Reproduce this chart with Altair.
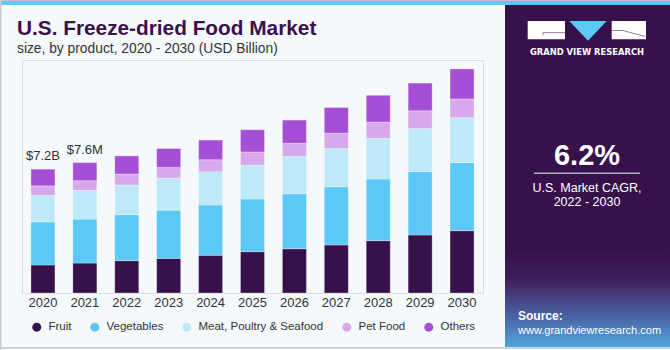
import altair as alt
import pandas as pd

# ---------------- data ----------------
years = ["2020", "2021", "2022", "2023", "2024", "2025", "2026", "2027", "2028", "2029", "2030"]
categories = ["Fruit", "Vegetables", "Meat, Poultry & Seafood", "Pet Food", "Others"]
fruit = [1.63, 1.74, 1.88, 2.01, 2.19, 2.40, 2.57, 2.79, 3.04, 3.37, 3.62]
vegetables = [2.50, 2.55, 2.67, 2.80, 2.92, 3.06, 3.19, 3.38, 3.58, 3.68, 3.95]
meat = [1.53, 1.67, 1.72, 1.86, 1.93, 1.96, 2.17, 2.22, 2.36, 2.50, 2.61]
pet_food = [0.56, 0.56, 0.64, 0.62, 0.70, 0.77, 0.77, 0.89, 0.95, 1.03, 1.09]
others = [0.97, 1.05, 1.05, 1.10, 1.14, 1.29, 1.34, 1.49, 1.55, 1.61, 1.74]
colors = ["#37114a", "#5bc8f5", "#bde9f9", "#d7a9ec", "#a54fd6"]
label_years = ["2020", "2021"]
label_texts = ["$7.2B", "$7.6M"]

series = [fruit, vegetables, meat, pet_food, others]
rows = []
for ci, (cat, vals) in enumerate(zip(categories, series)):
    for y, v in zip(years, vals):
        rows.append({"year": y, "product": cat, "value": v, "order": ci})
df = pd.DataFrame(rows)

totals = df.groupby("year", as_index=False)["value"].sum()
lab = pd.DataFrame({"year": label_years, "label": label_texts})
lab = lab.merge(totals, on="year")

# ---------------- layout ----------------
OX, OY = 22, 60          # plot origin in page pixels
W, H = 461, 233
YMAX = 13.53

FONT = "Liberation Sans"
one = pd.DataFrame({"k": [0]})


def rect(x1, y1, x2, y2, fill):
    return alt.Chart(one).mark_rect(fill=fill, strokeWidth=0).encode(
        x=alt.value(x1 - OX), x2=alt.value(x2 - OX),
        y=alt.value(y1 - OY), y2=alt.value(y2 - OY))


def txt(s, x, y, size, color, weight="normal", align="left", font=FONT):
    return alt.Chart(one).mark_text(
        text=s, align=align, baseline="alphabetic", fontSize=size,
        fontWeight=weight, color=color, font=font).encode(
        x=alt.value(x - OX), y=alt.value(y - OY))


def line(x1, y1, x2, y2, color, width=1.0):
    return alt.Chart(one).mark_rule(color=color, strokeWidth=width).encode(
        x=alt.value(x1 - OX), x2=alt.value(x2 - OX),
        y=alt.value(y1 - OY), y2=alt.value(y2 - OY))


deco = []
# frame
deco.append(rect(0, 0, 670, 5, "#5bc8f5"))
deco.append(rect(0, 0, 670, 1, "#b9c3c9"))
deco.append(rect(0, 0, 1.5, 350, "#c9cfd3"))
deco.append(rect(0, 347, 670, 348.7, "#c9cfd3"))

# right panel
deco.append(rect(505, 5, 670, 347, "#37114a"))
grad = alt.Gradient(
    gradient="linear",
    stops=[alt.GradientStop(color="#37114a", offset=0),
           alt.GradientStop(color="#3d1f5c", offset=0.3),
           alt.GradientStop(color="#46397a", offset=0.45),
           alt.GradientStop(color="#4a66a8", offset=0.7),
           alt.GradientStop(color="#52a6df", offset=1)],
    x1=0, x2=0, y1=0, y2=1)
deco.append(alt.Chart(one).mark_rect(fill=grad, strokeWidth=0).encode(
    x=alt.value(505 - OX), x2=alt.value(670 - OX),
    y=alt.value(250 - OY), y2=alt.value(347 - OY)))

# logo
deco.append(rect(527.7, 21, 565, 39.3, "#ffffff"))
deco.append(line(543, 32.7, 565, 32.7, "#8d7f9c", 1))
deco.append(line(543, 32.7, 543, 35.5, "#8d7f9c", 1))
deco.append(rect(611.7, 21, 646, 39.3, "#ffffff"))
deco.append(line(612, 30.5, 623, 30.5, "#8d7f9c", 1))
deco.append(line(623, 30.5, 645, 36.5, "#8d7f9c", 1))
deco.append(alt.Chart(one).mark_point(
    shape="M-1,-0.527L1,-0.527L0,0.527Z", size=1399, filled=True,
    fill="#5bc8f5", strokeWidth=0, opacity=1).encode(
    x=alt.value(588 - OX), y=alt.value(30.9 - OY)))
deco.append(txt("GRAND VIEW RESEARCH", 587, 54.5, 8.4, "#ffffff", "bold", "center", "DejaVu Sans"))

# CAGR
deco.append(txt("6.2%", 587, 165, 29, "#ffffff", "bold", "center"))
deco.append(line(534, 173.3, 640, 173.3, "#b8aec4", 1.5))
deco.append(txt("U.S. Market CAGR,", 587, 192, 12.5, "#ffffff", "normal", "center"))
deco.append(txt("2022 - 2030", 587, 205.5, 12.5, "#ffffff", "normal", "center"))

# source
deco.append(txt("Source:", 518, 319.5, 12, "#ffffff", "bold"))
deco.append(txt("www.grandviewresearch.com", 518, 333.5, 11, "#ffffff"))

# titles
deco.append(txt("U.S. Freeze-dried Food Market", 17, 35, 20.8, "#3a1249", "bold"))
deco.append(txt("size, by product, 2020 - 2030 (USD Billion)", 17, 53, 13.8, "#333333"))

# ---------------- bars ----------------
bars = alt.Chart(df).mark_bar(stroke="#ffffff", strokeWidth=0.6, strokeOpacity=0.5).encode(
    x=alt.X("year:N", sort=years, title=None,
            scale=alt.Scale(paddingInner=0.427, paddingOuter=0.2135),
            axis=alt.Axis(domain=False, ticks=False, labelAngle=0, labelPadding=3,
                          labelFontSize=13, labelColor="#333333", labelFont=FONT,
                          grid=False)),
    y=alt.Y("value:Q", stack="zero", title=None, axis=None,
            scale=alt.Scale(domain=[0, YMAX], nice=False, zero=True)),
    color=alt.Color("product:N", title=None,
                    scale=alt.Scale(domain=categories, range=colors),
                    legend=alt.Legend(orient="none", legendX=9, legendY=261,
                                      direction="horizontal", symbolType="circle",
                                      symbolSize=81, symbolStrokeWidth=0, symbolOpacity=1,
                                      labelFontSize=11.5, labelColor="#333333", labelFont=FONT,
                                      columnPadding=17, labelOffset=6, padding=0)),
    order=alt.Order("order:Q", sort="ascending"),
)

labels = alt.Chart(lab).mark_text(dy=-9, baseline="alphabetic", fontSize=13,
                                  color="#333333", font=FONT).encode(
    x=alt.X("year:N", sort=years),
    y=alt.Y("value:Q"),
    text="label:N",
)

chart = alt.layer(*deco, bars, labels).properties(
    width=W, height=H,
    padding={"left": OX, "top": OY, "right": 670 - OX - W, "bottom": 350 - OY - H},
    autosize=alt.AutoSizeParams(type="none"),
    background="#f5f9fc",
).configure_view(stroke=None).configure(font=FONT)

chart.save("out.html", embed_options={"renderer": "svg", "actions": False})
